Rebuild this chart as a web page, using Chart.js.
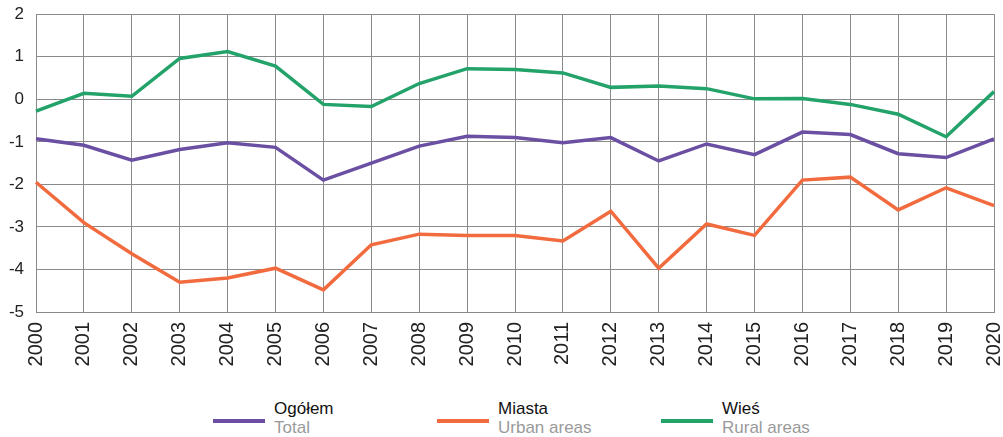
<!DOCTYPE html>
<html>
<head>
<meta charset="utf-8">
<script src="https://cdn.jsdelivr.net/npm/chart.js@4"></script>
<style>
  body { margin: 0; background: #fff; font-family: "Liberation Sans", Arial, sans-serif; overflow: hidden; }
  #wrap { position: relative; width: 1003px; height: 437px; overflow: hidden; }
  /* canvas is a little wider/taller than the page so the plot area lands where the original has it */
  #chartBox { position: absolute; left: 0; top: -8px; width: 1028px; height: 380px; }
  .leg { position: absolute; top: 399px; }
  .leg .swatch { position: absolute; left: 0; top: 20px; width: 52px; height: 4px; }
  .leg .pl { position: absolute; left: 61px; top: 0; font-family: "Liberation Sans Narrow", "Liberation Sans", Arial, sans-serif; font-size: 17px; color: #111; white-space: nowrap; }
  .leg .en { position: absolute; left: 61px; top: 19px; font-family: "Liberation Sans Narrow", "Liberation Sans", Arial, sans-serif; font-size: 17px; color: #9a9a9a; white-space: nowrap; }
</style>
</head>
<body>
<div id="wrap">
  <div id="chartBox"><canvas id="lineChart"></canvas></div>
  <div id="legend"></div>
</div>
<script>
const years = ["2000", "2001", "2002", "2003", "2004", "2005", "2006", "2007", "2008", "2009", "2010",
  "2011", "2012", "2013", "2014", "2015", "2016", "2017", "2018", "2019", "2020"];

const total = [-0.93, -1.08, -1.43, -1.18, -1.02, -1.13, -1.9, -1.5, -1.1, -0.87, -0.9,
  -1.02, -0.9, -1.45, -1.05, -1.3, -0.77, -0.83, -1.28, -1.37, -0.93];

const urban = [-1.95, -2.9, -3.63, -4.3, -4.2, -3.97, -4.48, -3.42, -3.17, -3.2, -3.2,
  -3.33, -2.63, -3.97, -2.93, -3.2, -1.9, -1.83, -2.6, -2.08, -2.5];

const rural = [-0.28, 0.14, 0.07, 0.96, 1.12, 0.78, -0.12, -0.17, 0.37, 0.72, 0.7,
  0.62, 0.28, 0.31, 0.25, 0.01, 0.02, -0.12, -0.35, -0.88, 0.18];

const seriesNames = [["Ogółem", "Total"], ["Miasta", "Urban areas"], ["Wieś", "Rural areas"]];
const seriesColors = ["#6a4fa3", "#f26b3e", "#23a36a"];
const legendLeft = [213, 437, 661];

// --- Legend (two-line labels, built as HTML) ---

const legendEl = document.getElementById("legend");
seriesNames.forEach((names, i) => {
  const item = document.createElement("div");
  item.className = "leg";
  item.style.left = legendLeft[i] + "px";
  item.innerHTML =
    `<div class="swatch" style="background:${seriesColors[i]}"></div>` +
    `<div class="pl">${names[0]}</div><div class="en">${names[1]}</div>`;
  legendEl.appendChild(item);
});

// --- Chart ---

const ctx = document.getElementById("lineChart");

new Chart(ctx, {
  type: "line",
  data: {
    labels: years,
    datasets: [total, urban, rural].map((data, i) => ({
      label: seriesNames[i][0],
      data: data,
      borderColor: seriesColors[i],
      borderWidth: 3.5,
      pointRadius: 0,
      tension: 0,
      fill: false,
    })),
  },
  options: {
    responsive: true,
    maintainAspectRatio: false,
    animation: false,
    layout: { padding: { top: 6, right: 0, left: 0, bottom: 0 } },
    plugins: {
      legend: { display: false },
      tooltip: { enabled: false },
    },
    scales: {
      x: {
        grid: { color: "#8a8a8a", drawTicks: false, lineWidth: 1 },
        border: { color: "#8a8a8a" },
        afterFit: (scale) => { scale.height = 60; },
        ticks: {
          color: "#222",
          font: { size: 20, family: "'Liberation Sans', Arial, sans-serif" },
          maxRotation: 90,
          minRotation: 90,
          padding: 10,
          autoSkip: false,
        },
      },
      y: {
        min: -5,
        max: 2,
        grid: { color: "#8a8a8a", drawTicks: false, lineWidth: 1 },
        border: { color: "#8a8a8a" },
        afterFit: (scale) => { scale.width = 36; },
        ticks: {
          stepSize: 1,
          color: "#222",
          padding: 12,
          font: { size: 17, family: "'Liberation Sans', Arial, sans-serif" },
          callback: (v) => String(v),
        },
      },
    },
  },
});
</script>
</body>
</html>
